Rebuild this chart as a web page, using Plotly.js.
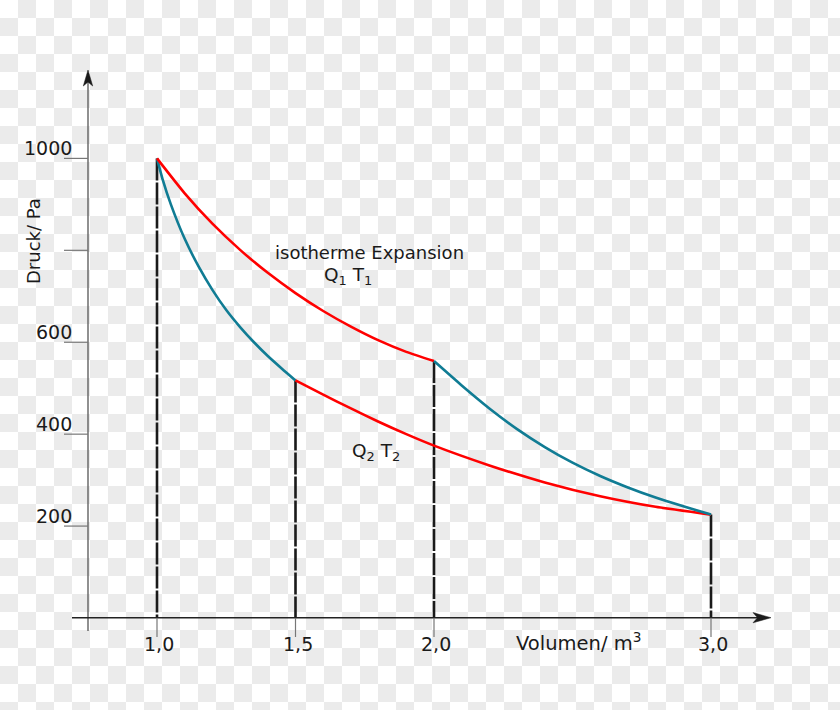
<!DOCTYPE html>
<html><head><meta charset="utf-8">
<script src="https://cdn.plot.ly/plotly-3.0.1.min.js"></script>
<style>
html,body{margin:0;padding:0;}
body{width:840px;height:710px;overflow:hidden;background-color:#fff;
background-image:repeating-conic-gradient(#ebebeb 0 25%, #ffffff 0 50%);
background-size:36px 36px;background-position:0 0;}
#chart{width:840px;height:710px;}
</style></head><body><div id="chart"></div>
<script>
// ---- data (Volumen in m^3, Druck in Pa) ----
const isoHotV  = [1.0, 1.1, 1.2, 1.3, 1.4, 1.5, 1.6, 1.7, 1.8, 1.9, 2.0];
const isoHotP  = [1000, 924, 858, 801, 751, 707, 668, 634, 604, 579, 559];
const adiaLeftV = [1.0, 1.02, 1.05, 1.1, 1.15, 1.2, 1.25, 1.3, 1.35, 1.4, 1.45, 1.5];
const adiaLeftP = [1000, 955, 900, 825, 765, 714, 670, 633, 600, 570, 543, 517];
const isoColdV = [1.5, 1.6, 1.7, 1.8, 1.9, 2.0, 2.2, 2.4, 2.6, 2.8, 3.0];
const isoColdP = [517, 486, 456, 427, 400, 375, 332, 295, 265, 242, 225];
const adiaRightV = [2.0, 2.1, 2.2, 2.3, 2.4, 2.5, 2.6, 2.7, 2.8, 2.9, 3.0];
const adiaRightP = [559, 506, 456, 411, 372, 338, 309, 284, 262, 243, 225];
const dropV = [1.0, 1.5, 2.0, 3.0];
const dropP = [1000, 517, 559, 225];
const xTickVals = [1.0, 1.5, 2.0, 3.0];
const xTickText = ["1,0", "1,5", "2,0", "3,0"];
const yTickVals = [200, 400, 600, 800, 1000];
const yTickText = ["200", "400", "600", "", "1000"];

// ---- geometry ----
const W = 840, H = 710;
const PXU = 277;      // px per m^3
const PYU = 0.4596;   // px per Pa
const X1PX = 157;     // pixel column of V = 1
const Y0PX = 618;     // pixel row of p = 0
const xr = [1 - X1PX / PXU, 1 + (W - X1PX) / PXU];
const yr = [-(H - Y0PX) / PYU, Y0PX / PYU];
const fx = p => p / W;         // pixel -> paper x
const fy = p => 1 - p / H;     // pixel -> paper y

const RED = '#ff0000', TEAL = '#107c94', INK = '#1a1a1a', FONT = 'DejaVu Sans';
const SPL = {shape: 'spline', smoothing: 0.6};

const traces = [];
dropV.forEach((v, i) => {
  traces.push({x: [v, v], y: [dropP[i], 0], mode: 'lines', hoverinfo: 'skip',
    line: {color: INK, width: 2.6, dash: '22px,2px'}});
});
traces.push({x: adiaLeftV, y: adiaLeftP, mode: 'lines', line: Object.assign({color: TEAL, width: 2.6}, SPL)});
traces.push({x: isoHotV, y: isoHotP, mode: 'lines', line: Object.assign({color: RED, width: 2.6}, SPL)});
traces.push({x: isoColdV, y: isoColdP, mode: 'lines', line: Object.assign({color: RED, width: 2.6}, SPL)});
traces.push({x: adiaRightV, y: adiaRightP, mode: 'lines', line: Object.assign({color: TEAL, width: 2.6}, SPL)});

const shapes = [];
// axis lines
shapes.push({type: 'line', xref: 'paper', yref: 'paper', x0: fx(88), x1: fx(88), y0: fy(631), y1: fy(80),
  line: {color: '#555', width: 1.3}});
shapes.push({type: 'line', xref: 'paper', yref: 'paper', x0: fx(72), x1: fx(760), y0: fy(617.7), y1: fy(617.7),
  line: {color: '#222', width: 1.4}});
// arrowheads
shapes.push({type: 'path', xref: 'paper', yref: 'paper',
  path: `M${fx(88)},${fy(70)} L${fx(83.3)},${fy(86)} L${fx(88)},${fy(82)} L${fx(92.7)},${fy(86)} Z`,
  fillcolor: '#1a1a1a', line: {color: '#1a1a1a', width: 0.5}});
shapes.push({type: 'path', xref: 'paper', yref: 'paper',
  path: `M${fx(771)},${fy(617.7)} L${fx(753)},${fy(612.6)} L${fx(757.5)},${fy(617.7)} L${fx(753)},${fy(622.8)} Z`,
  fillcolor: '#1a1a1a', line: {color: '#1a1a1a', width: 0.5}});
// ticks
yTickVals.forEach(v => shapes.push({type: 'line', xref: 'paper', yref: 'y', x0: fx(64), x1: fx(88), y0: v, y1: v,
  line: {color: '#777', width: 1.2}}));
xTickVals.forEach(v => shapes.push({type: 'line', xref: 'x', yref: 'paper', x0: v, x1: v, y0: fy(618), y1: fy(637),
  line: {color: '#777', width: 1.2}}));

const annotations = [];
const tf = {family: FONT, size: 19, color: INK};
yTickVals.forEach((v, i) => {
  if (yTickText[i]) annotations.push({xref: 'paper', yref: 'y', x: fx(74), y: v, yshift: 10,
    xanchor: 'right', yanchor: 'middle', text: yTickText[i], showarrow: false, font: tf});
});
xTickVals.forEach((v, i) => annotations.push({xref: 'x', yref: 'paper', x: v, xshift: 2, y: fy(644),
  xanchor: 'center', yanchor: 'middle', text: xTickText[i], showarrow: false, font: tf}));
annotations.push({xref: 'paper', yref: 'paper', x: fx(33), y: fy(241), textangle: -90,
  xanchor: 'center', yanchor: 'middle', text: 'Druck/ Pa', showarrow: false, font: {family: FONT, size: 18, color: INK}});
annotations.push({xref: 'paper', yref: 'paper', x: fx(578), y: fy(641.5),
  xanchor: 'center', yanchor: 'middle', text: 'Volumen/ m<sup>3</sup>', showarrow: false, font: {family: FONT, size: 19.5, color: INK}});
annotations.push({xref: 'x', yref: 'y', x: 1.767, y: 796, xanchor: 'center', yanchor: 'middle',
  text: 'isotherme Expansion', showarrow: false, font: {family: FONT, size: 18, color: INK}});
annotations.push({xref: 'x', yref: 'y', x: 1.691, y: 744, xanchor: 'center', yanchor: 'middle',
  text: 'Q<sub>1</sub> T<sub>1</sub>', showarrow: false, font: {family: FONT, size: 18.5, color: INK}});
annotations.push({xref: 'x', yref: 'y', x: 1.789, y: 361, xanchor: 'center', yanchor: 'middle',
  text: 'Q<sub>2</sub> T<sub>2</sub>', showarrow: false, font: {family: FONT, size: 18.5, color: INK}});

const layout = {
  width: W, height: H, margin: {l: 0, r: 0, t: 0, b: 0, pad: 0},
  paper_bgcolor: 'rgba(0,0,0,0)', plot_bgcolor: 'rgba(0,0,0,0)',
  showlegend: false,
  font: {family: FONT, color: INK},
  xaxis: {range: xr, visible: false, fixedrange: true},
  yaxis: {range: yr, visible: false, fixedrange: true},
  shapes: shapes, annotations: annotations
};
Plotly.newPlot('chart', traces, layout, {displayModeBar: false, staticPlot: true});
</script></body></html>
